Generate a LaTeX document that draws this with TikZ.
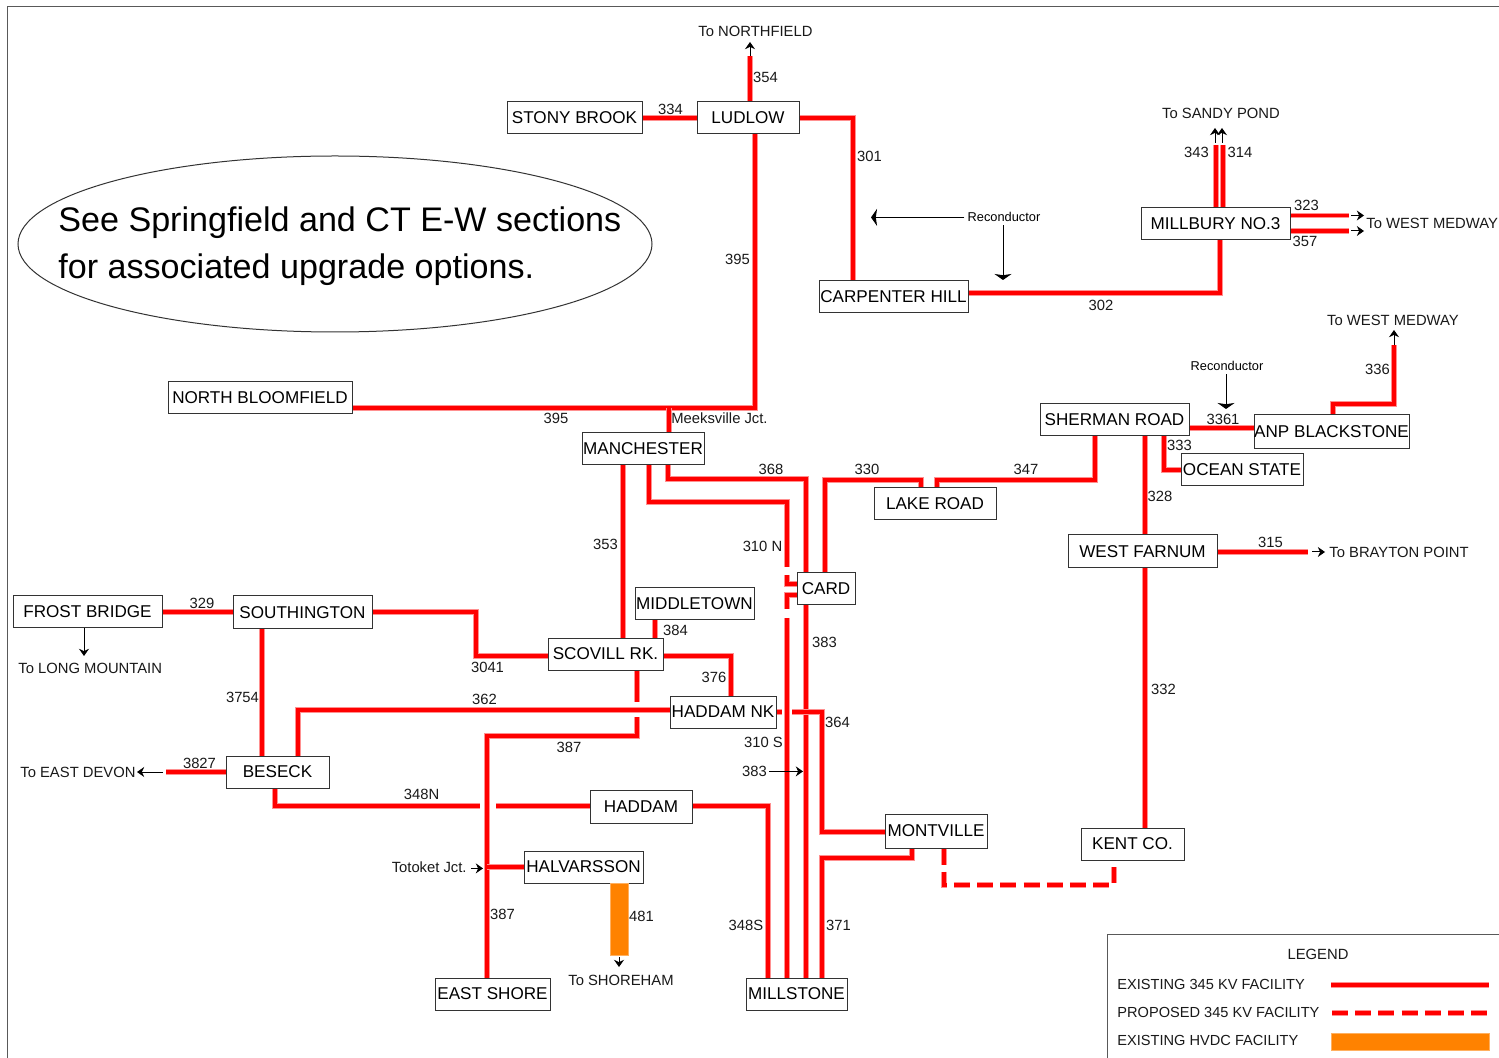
\documentclass[tikz,border=0pt]{standalone}
\usepackage{fontspec}
\setmainfont{Liberation Sans}
\usetikzlibrary{arrows.meta,shapes.geometric}
\definecolor{pale}{HTML}{FF9090}
\definecolor{hvdc}{HTML}{FF8200}
\definecolor{hvdcedge}{HTML}{FFB060}
\definecolor{boxline}{HTML}{333333}
\tikzset{
  stn/.style={draw=boxline,line width=0.5pt,fill=white,inner sep=0pt,font=\fontsize{8.55}{10}\selectfont},
  lab/.style={inner sep=0pt,yshift=-0.2pt,font=\fontsize{7.4}{9}\selectfont,text=black!90},
  lgd/.style={inner sep=0pt,yshift=-0.2pt,font=\fontsize{7.3}{9}\selectfont,text=black!90},
  tiny/.style={inner sep=0pt,yshift=-0.2pt,font=\fontsize{6.4}{8}\selectfont},
  feeder/.style={draw=pale,line width=2.8pt,line join=miter,postaction={draw=red,line width=1.7pt}},
  plan/.style={draw=pale,line width=2.8pt,dash pattern=on 8pt off 3.6pt,postaction={draw=red,line width=1.7pt,dash pattern=on 8pt off 3.6pt}},
  thin arrow/.style={draw=black,line width=0.5pt,-{Stealth[length=3.6pt,width=5pt]}},
  bar arrow/.style={draw=black,line width=0.5pt,-{Stealth[length=3pt,width=8.5pt,inset=0.6pt]}},
  frameline/.style={draw=black!65,line width=0.5pt}
}
\newcommand\stnbox[6]{%
  \pgfmathsetmacro\bxw{(#4-#2)*0.5}\pgfmathsetmacro\bxh{(#5-#3)*0.5}%
  \pgfmathsetmacro\bxx{(#4+#2)/2}\pgfmathsetmacro\bxy{(#5+#3)/2}%
  \node[stn,minimum width=\bxw pt,minimum height=\bxh pt] (#1) at (\bxx,\bxy) {\raisebox{-0.6pt}{#6}};}
\begin{document}
\begin{tikzpicture}[x=0.5pt,y=-0.5pt]
\useasboundingbox (0,0) rectangle (1499,1058);
\fill[white] (0,0) rectangle (1499,1058);
\draw[frameline] (7,1058) -- (7,7) -- (1499,7);
% stations
\stnbox{stony}{507}{102}{642}{134}{STONY BROOK}
\stnbox{ludlow}{697}{102}{799}{134}{LUDLOW}
\stnbox{carp}{819}{281}{968}{313}{CARPENTER HILL}
\stnbox{mill}{1141}{208}{1290}{240}{MILLBURY NO.3}
\stnbox{nbloom}{168}{382}{352}{414}{NORTH BLOOMFIELD}
\stnbox{manch}{582}{433}{704}{465}{MANCHESTER}
\stnbox{sherman}{1040}{404}{1189}{436}{SHERMAN ROAD}
\stnbox{anp}{1254}{415}{1409}{449}{ANP BLACKSTONE}
\stnbox{ocean}{1181}{454}{1303}{486}{OCEAN STATE}
\stnbox{lake}{874}{488}{996}{520}{LAKE ROAD}
\stnbox{farnum}{1068}{535}{1217}{568}{WEST FARNUM}
\stnbox{card}{797}{573}{855}{605}{CARD}
\stnbox{middle}{635}{588}{754}{620}{MIDDLETOWN}
\stnbox{frost}{13}{596}{162}{628}{FROST BRIDGE}
\stnbox{south}{233}{596}{372}{629}{SOUTHINGTON}
\stnbox{scovill}{548}{638}{663}{670}{SCOVILL RK.}
\stnbox{hnk}{670}{696}{776}{728}{HADDAM NK}
\stnbox{beseck}{226}{756}{329}{788}{BESECK}
\stnbox{haddam}{590}{790}{692}{823}{HADDAM}
\stnbox{montv}{885}{814}{987}{848}{MONTVILLE}
\stnbox{kent}{1081}{828}{1184}{860}{KENT CO.}
\stnbox{halv}{524}{851}{643}{883}{HALVARSSON}
\stnbox{eshore}{435}{978}{550}{1010}{EAST SHORE}
\stnbox{millst}{746}{978}{847}{1010}{MILLSTONE}
% free ends
\coordinate (nNorth) at (750,56);
\coordinate (nNorthTip) at (750,42);
\coordinate (f343) at (1216,145);
\coordinate (f314) at (1223,145);
\coordinate (t343) at (1215,128);
\coordinate (t314) at (1222,128);
\coordinate (f323) at (1349,215.5);
\coordinate (f357) at (1349,231);
\coordinate (t323a) at (1351,215.5);
\coordinate (t323) at (1364,215.5);
\coordinate (t357a) at (1351,231);
\coordinate (t357) at (1364,231);
\coordinate (f336) at (1394,345);
\coordinate (t336) at (1394,330);
\coordinate (f315) at (1308,552);
\coordinate (t315a) at (1312,552);
\coordinate (t315) at (1325,552);
\coordinate (f3827) at (166,772);
\coordinate (t3827a) at (163,772);
\coordinate (t3827) at (137,772);
\coordinate (tFrost) at (84,656);
\coordinate (fHv) at (619,957);
\coordinate (tHv) at (619,967);
\coordinate (g348a) at (480,806);
\coordinate (g348b) at (496,806);
\coordinate (j387) at (487,867);
% existing lines
\draw[feeder] (ludlow.north -| nNorth) -- (nNorth);
\draw[feeder] (stony.east) -- (ludlow.west);
\draw[feeder] (ludlow.east) -- (853,118) -- (853,0 |- carp.north);
\draw[feeder] (755,0 |- ludlow.south) -- (755,408) -- (nbloom.east |- 0,408);
\draw[feeder] (669,408) -- (669,0 |- manch.north);
\draw[feeder] (carp.east |- 0,293) -- (1220,293) -- (1220,0 |- mill.south);
\draw[feeder] (f343) -- (1216,0 |- mill.north);
\draw[feeder] (f314) -- (1223,0 |- mill.north);
\draw[feeder] (mill.east |- 0,215.5) -- (f323);
\draw[feeder] (mill.east |- 0,231) -- (f357);
\draw[feeder] (sherman.east |- 0,428) -- (anp.west |- 0,428);
\draw[feeder] (1333,0 |- anp.north) -- (1333,404) -- (1394,404) -- (f336);
\draw[feeder] (1095,0 |- sherman.south) -- (1095,480) -- (937,480) -- (937,0 |- lake.north);
\draw[feeder] (921,0 |- lake.north) -- (921,480) -- (825,480) -- (825,0 |- card.north);
\draw[feeder] (1164,0 |- sherman.south) -- (1164,470) -- (ocean.west |- 0,470);
\draw[feeder] (1145,0 |- sherman.south) -- (1145,0 |- farnum.north);
\draw[feeder] (farnum.east |- 0,552) -- (f315);
\draw[feeder] (1145,0 |- farnum.south) -- (1145,0 |- kent.north);
\draw[feeder] (668,0 |- manch.south) -- (668,479) -- (806,479) -- (806,0 |- card.north);
\draw[feeder] (806,0 |- card.south) -- (806,0 |- millst.north);
\draw[feeder] (649,0 |- manch.south) -- (649,502) -- (787,502) -- (787,567);
\draw[feeder] (787,575) -- (787,584) -- (card.west |- 0,584);
\draw[feeder] (card.west |- 0,595) -- (787,595) -- (787,609);
\draw[feeder] (787,618) -- (787,0 |- millst.north);
\draw[feeder] (623,0 |- manch.south) -- (623,0 |- scovill.north);
\draw[feeder] (655,0 |- middle.south) -- (655,0 |- scovill.north);
\draw[feeder] (scovill.east |- 0,656) -- (731,656) -- (731,0 |- hnk.north);
\draw[feeder] (637,0 |- scovill.south) -- (637,702);
\draw[feeder] (637,717) -- (637,736) -- (487,736) -- (487,0 |- eshore.north);
\draw[feeder] (south.east |- 0,612) -- (476,612) -- (476,656) -- (scovill.west |- 0,656);
\draw[feeder] (frost.east) -- (south.west |- frost.east);
\draw[feeder] (262,0 |- south.south) -- (262,0 |- beseck.north);
\draw[feeder] (hnk.west |- 0,710) -- (298,710) -- (298,0 |- beseck.north);
\draw[feeder] (f3827) -- (beseck.west |- f3827);
\draw[feeder] (275,0 |- beseck.south) -- (275,806) -- (g348a);
\draw[feeder] (g348b) -- (haddam.west |- g348b);
\draw[feeder] (haddam.east |- 0,806) -- (768,806) -- (768,0 |- millst.north);
\draw[feeder] (halv.west |- j387) -- (j387);
\draw[feeder] (hnk.east |- 0,712) -- (782,712);
\draw[feeder] (792,712) -- (822,712) -- (822,832) -- (montv.west |- 0,832);
\draw[feeder] (822,0 |- millst.north) -- (822,858) -- (912,858) -- (912,0 |- montv.south);
% proposed
\draw[plan] (944,0 |- montv.south) -- (944,885) -- (1114,885) -- (1114,0 |- kent.south);
% HVDC
\filldraw[fill=hvdc,draw=hvdcedge,line width=0.5pt] (610,0 |- halv.south) rectangle (628,955);
% thin arrows
\draw[thin arrow] (nNorth) -- (nNorthTip);
\draw[thin arrow] (1215,143) -- (t343);
\draw[thin arrow] (1222,143) -- (t314);
\draw[thin arrow] (t323a) -- (t323);
\draw[thin arrow] (t357a) -- (t357);
\draw[thin arrow] (f336) -- (t336);
\draw[thin arrow] (t315a) -- (t315);
\draw[thin arrow] (t3827a) -- (t3827);
\draw[thin arrow] (84,0 |- frost.south) -- (tFrost);
\draw[thin arrow] (fHv) -- (tHv);
% ellipse
\node[draw=boxline,line width=0.5pt,ellipse,minimum width=317pt,minimum height=88pt,inner sep=0pt] (note) at (335,244) {};
\node[inner sep=0pt,anchor=west,font=\fontsize{17.05}{22}\selectfont] (note1) at (58,223) {See Springfield and CT E-W sections};
\node[inner sep=0pt,anchor=west,font=\fontsize{17.05}{22}\selectfont] (note2) at (58,270) {for associated upgrade options.};
% line labels
\node[lab] (l354) at (765.5,77) {354};
\node[lab] (l334) at (670.5,109) {334};
\node[lab] (l301) at (869.5,156) {301};
\node[lab] (l395a) at (737.5,259) {395};
\node[lab] (l395b) at (556,418) {395};
\node[lab] (l302) at (1101,305) {302};
\node[lab] (l343) at (1196.5,152) {343};
\node[lab] (l314) at (1240,152) {314};
\node[lab] (l323) at (1306.5,205) {323};
\node[lab] (l357) at (1305,241) {357};
\node[lab] (l336) at (1377.5,369) {336};
\node[lab] (l3361) at (1223,419) {3361};
\node[lab] (l333) at (1179.5,445) {333};
\node[lab] (l328) at (1160,496) {328};
\node[lab] (l315) at (1270.5,542) {315};
\node[lab] (l332) at (1163.5,689) {332};
\node[lab] (l368) at (771,469) {368};
\node[lab] (l330) at (867,469) {330};
\node[lab] (l347) at (1026,469) {347};
\node[lab] (l353) at (605.5,544) {353};
\node[lab] (l310n) at (762.5,546) {310 N};
\node[lab] (l383a) at (824.5,642) {383};
\node[lab] (l384) at (675.5,630) {384};
\node[lab] (l376) at (714,677) {376};
\node[lab] (l364) at (837.5,722) {364};
\node[lab] (l310s) at (763.5,742) {310 S};
\node[lab] (l383b) at (754.5,771) {383};
\node[lab] (l329) at (202,603) {329};
\node[lab] (l3041) at (487.5,667) {3041};
\node[lab] (l3754) at (242.5,697) {3754};
\node[lab] (l362) at (484.5,699) {362};
\node[lab] (l387a) at (569,747) {387};
\node[lab] (l387b) at (502.5,914) {387};
\node[lab] (l3827) at (199.5,763) {3827};
\node[lab] (l348n) at (421.5,794) {348N};
\node[lab] (l348s) at (746,925) {348S};
\node[lab] (l371) at (838.5,925) {371};
\node[lab] (l481) at (641.5,916) {481};
% free-end labels
\node[lab] (toN) at (755.5,31) {To NORTHFIELD};
\node[lab] (toSP) at (1221,113) {To SANDY POND};
\node[lab,anchor=west] (toWM) at (1366,223) {To WEST MEDWAY};
\node[lab] (toWM2) at (1393,320) {To WEST MEDWAY};
\node[lab,anchor=west] (toBP) at (1329,552) {To BRAYTON POINT};
\node[lab,anchor=west] (toLM) at (18,668) {To LONG MOUNTAIN};
\node[lab,anchor=west] (toED) at (20,772) {To EAST DEVON};
\node[lab] (toSH) at (621,980) {To SHOREHAM};
\node[lab,anchor=west] (mj) at (671,418) {Meeksville Jct.};
\node[lab,anchor=east] (tj) at (467,867) {Totoket Jct.};
\node[tiny] (rc1) at (1004,217) {Reconductor};
\node[tiny] (rc2) at (1227,366) {Reconductor};
% pointer arrows
\coordinate (p383) at (803,771.4);
\coordinate (pTotoket) at (483,868.4);
\coordinate (r1a) at (871,217.4);
\coordinate (r1b) at (1003,280);
\coordinate (r2) at (1226,409);
\draw[thin arrow] (l383b.east) ++(2,0) -- (p383);
\draw[thin arrow] (tj.east) ++(4,1) -- (pTotoket);
\draw[bar arrow] (rc1.west) ++(-3,0) -- (r1a);
\draw[bar arrow] (1003,0 |- rc1.south) ++(0,3) -- (r1b);
\draw[bar arrow] (1226,0 |- rc2.south) ++(0,3) -- (r2);
% legend
\draw[frameline] (1107,1058) -- (1107,934) -- (1499,934);
\node[lab] (lg) at (1318,954) {LEGEND};
\node[lgd,anchor=west] (lg1) at (1117,984) {EXISTING 345 KV FACILITY};
\node[lgd,anchor=west] (lg2) at (1117,1012) {PROPOSED 345 KV FACILITY};
\node[lgd,anchor=west] (lg3) at (1117,1040) {EXISTING HVDC FACILITY};
\draw[feeder] (1331,985) -- (1489,985);
\draw[plan] (1332,1013) -- (1489,1013);
\filldraw[fill=hvdc,draw=hvdcedge,line width=0.5pt] (1331,1033) rectangle (1489,1050);
\end{tikzpicture}
\end{document}
